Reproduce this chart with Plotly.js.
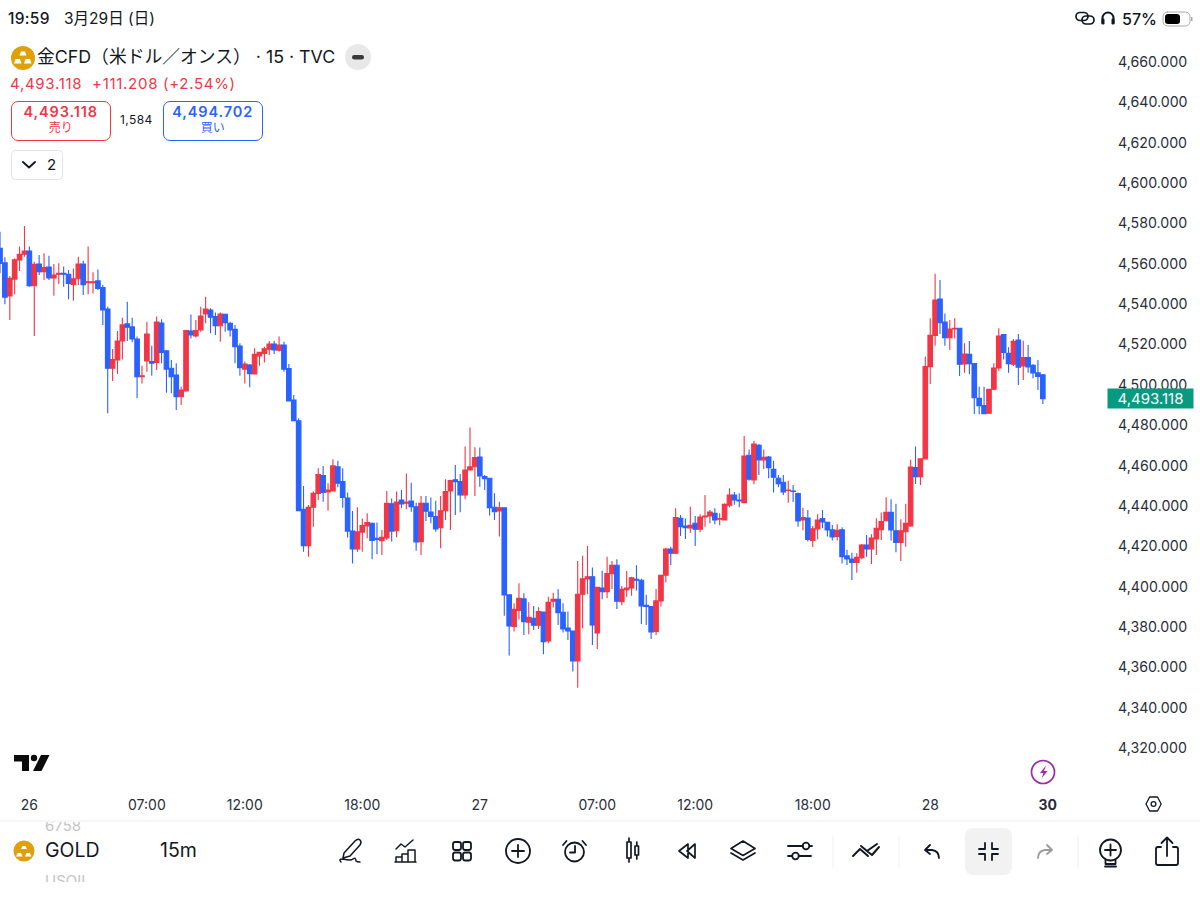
<!DOCTYPE html>
<html><head><meta charset="utf-8">
<script src="https://cdn.plot.ly/plotly-3.0.1.min.js"></script>
<style>
html,body{margin:0;padding:0;background:#fff;width:1200px;height:900px;overflow:hidden}
#wrap{position:relative;width:1200px;height:900px;font-family:Inter,Roboto,"Noto Sans CJK JP",sans-serif;color:#131722}
#chart{position:absolute;left:0;top:0;width:1200px;height:900px}
.t{position:absolute;white-space:nowrap;line-height:1;font-family:Inter,"Noto Sans CJK JP",sans-serif}
.box{position:absolute;box-sizing:border-box}
svg.ov{position:absolute;left:0;top:0;pointer-events:none}
</style></head><body>
<div id="wrap">
<div id="chart"></div>
<svg class="ov" width="1200" height="900" viewBox="0 0 1200 900" fill="none" stroke="#131722" stroke-width="1.8" stroke-linecap="round" stroke-linejoin="round">
  <circle cx="23" cy="58" r="12" fill="#dfa00b" stroke="none"/>
  <path d="M19.500 55.500 l1.500-4 h4 l1.500 4z M14 63.500 l1.500-4.500 h4.500 l1.500 4.500z M24 63.500 l1.500-4.500 h4.500 l1.500 4.500z" fill="#fff" stroke="none"/>
  <circle cx="358" cy="57" r="13" fill="#e8e8e8" stroke="none"/>
  <rect x="352" y="55" width="12" height="4.500" rx="2.200" fill="#3a3a3a" stroke="none"/>
  <rect x="11.500" y="150.500" width="51" height="29" rx="4" stroke="#e0e3eb" stroke-width="1"/>
  <path d="M23 162 l6 5.500 l6-5.500" stroke-width="1.900"/>
  <g stroke-width="1.700">
    <rect x="1076" y="12.500" width="12" height="8" rx="4"/>
    <rect x="1082" y="16" width="12" height="8" rx="4"/>
  </g>
  <path d="M1102.500 23 v-5 a5.500 5.500 0 0 1 11 0 v5" stroke-width="2"/>
  <rect x="1101.500" y="18.500" width="3" height="6" rx="1.200" fill="#131722" stroke="none"/>
  <rect x="1111.500" y="18.500" width="3" height="6" rx="1.200" fill="#131722" stroke="none"/>
  <rect x="1163" y="12" width="27" height="14" rx="4.500" stroke="#a9a9a9" stroke-width="1"/>
  <rect x="1165" y="14" width="15" height="10" rx="3" fill="#000" stroke="none"/>
  <rect x="1191" y="17" width="1.500" height="4" fill="#a9a9a9" stroke="none"/>
  <path d="M14 755 h15 v16 h-7 v-9.500 h-8z" fill="#0b0b0b" stroke="none"/>
  <circle cx="34" cy="758" r="3.200" fill="#0b0b0b" stroke="none"/>
  <path d="M41 755 h8.500 l-8 16 h-8.500z" fill="#0b0b0b" stroke="none"/>
  <circle cx="1043" cy="772" r="11.500" stroke="#9c27b0" stroke-width="1.700"/>
  <path d="M1046 765.500 l-6 7.500 h3.500 l-2 5.500 l6-7.500 h-3.500z" fill="#9c27b0" stroke="none"/>
  <path d="M1146 804 l3.700-7 h7.800 l3.700 7 l-3.700 7 h-7.800z" stroke-width="1.300"/>
  <circle cx="1153.500" cy="804" r="2.400" stroke-width="1.300"/>
  <path d="M0 821 H1200" stroke="#eceef2" stroke-width="1"/>
  <path d="M833 836 V868 M899 836 V868 M1078 836 V868" stroke="#f0f1f3" stroke-width="1"/>
  <circle cx="24" cy="851" r="10.500" fill="#dfa00b" stroke="none"/>
  <path d="M21 849 l1.500-3 h3 l1.500 3z M16 856.500 l1.500-3.500 h3.500 l1.500 3.500z M25 856.500 l1.500-3.500 h3.500 l1.500 3.500z" fill="#fff" stroke="none"/>
  <path d="M344 853 L355 841 q3-3 5 -1 q2 2 0 5 L350 856 L343 858z M341 862 q-3 -3 2-3 q8 2 10 0 q3-2 3 2 q1 1 4 1" stroke-width="1.500"/>
  <path d="M396 849 l5-5 4 3 8-7 M396 862 v-5 h6 v5 M402 862 v-8 h6 v8 M408 862 v-12 h7 v12 M395 862 h21" stroke-width="1.500"/>
  <rect x="453" y="842" width="8" height="8" rx="2.200"/><rect x="463" y="842" width="8" height="8" rx="2.200"/>
  <rect x="453" y="852.500" width="8" height="8" rx="2.200"/><rect x="463" y="852.500" width="8" height="8" rx="2.200"/>
  <circle cx="518" cy="851" r="12"/><path d="M512 851 h12 M518 845 v12" />
  <circle cx="574.500" cy="852" r="9.500"/><path d="M575 846 v6.500 h-5 M563 845 l3.500-4 M586 845 l-3.500-4"/>
  <path d="M627 842 h4 v16 h-4z M629 838 v4 M629 858 v4 M635 846 h3.500 v9 h-3.500z M636.800 842 v4 M636.800 855 v4" stroke-width="1.700"/>
  <path d="M688 844 l-9 7 l9 7 z M695 844 l-8 7 l8 7z" stroke-width="1.700"/>
  <path d="M743 841 l12 7.500 l-12 7 l-12-7z M731 853 l12 7 l12-7" stroke-width="1.700"/>
  <path d="M788 846 h15 M810 846 h2 M788 856 h4 M799 856 h12"/><circle cx="806" cy="846" r="3.300"/><circle cx="795.500" cy="856" r="3.300"/>
  <path d="M853 856 l7-7 l8 7 M861 846 l6 5 l10-7 M868 852 l4 3 l7-8" stroke-width="2"/>
  <path d="M925 850 h7 q7 1 7 8 M930 845 l-5 5 l5 4" stroke-width="1.800"/>
  <rect x="965" y="828" width="47" height="47" rx="8" fill="#f2f2f2" stroke="none"/>
  <path d="M985 843 v6 h-6 M992 843 v6 h6 M985 860 v-6 h-6 M992 860 v-6 h6" stroke-width="1.800"/>
  <path d="M1052 850 h-7 q-7 1 -7 8 M1047 845 l5 5 l-5 4" stroke="#9a9a9a" stroke-width="1.800"/>
  <circle cx="1110.500" cy="850" r="10.500"/><path d="M1105 850 h11 M1110.500 844.500 v11 M1105.500 860 v4 h10 v-4 M1105 866.500 h11" stroke-width="1.800"/>
  <path d="M1161 847 h-3 q-2 0 -2 2 v14 q0 2 2 2 h18 q2 0 2 -2 v-14 q0 -2 -2 -2 h-3 M1167 856 v-18 M1161.500 843 l5.500-5.500 l5.500 5.500" stroke-width="1.800"/>
</svg>

<div class="t" style="left:8px;top:11px;font-size:15.500px;font-weight:500;letter-spacing:.3px">19:59</div>
<div class="t" style="left:64px;top:11px;font-size:15.500px">3月29日 (日)</div>
<div class="t" style="left:1122px;top:11px;font-size:16px;font-weight:500">57%</div>

<div class="t" style="left:37px;top:48px;font-size:17.800px">金CFD（米ドル／オンス） · 15 · TVC</div>
<div class="t" style="left:10px;top:76px;font-size:15px;letter-spacing:.7px;color:#f23645">4,493.118&nbsp; +111.208 (+2.54%)</div>

<div class="box" style="left:11px;top:101px;width:99.500px;height:40px;border:1.200px solid #f23645;border-radius:7px"></div>
<div class="t" style="left:11px;top:105px;width:99.500px;text-align:center;font-size:14.500px;font-weight:600;letter-spacing:.9px;color:#f23645">4,493.118</div>
<div class="t" style="left:11px;top:122px;width:99.500px;text-align:center;font-size:12px;color:#f23645">売り</div>
<div class="t" style="left:120px;top:114px;font-size:12px;letter-spacing:.4px">1,584</div>
<div class="box" style="left:163px;top:101px;width:99.500px;height:40px;border:1.200px solid #2962ff;border-radius:7px"></div>
<div class="t" style="left:163px;top:105px;width:99.500px;text-align:center;font-size:14.500px;font-weight:600;letter-spacing:.9px;color:#2962ff">4,494.702</div>
<div class="t" style="left:163px;top:122px;width:99.500px;text-align:center;font-size:12px;color:#2962ff">買い</div>
<div class="t" style="left:47px;top:157px;font-size:15px">2</div>

<div style="position:absolute;left:45px;top:822px;height:9px;width:60px;overflow:hidden"><div class="t" style="left:0;top:-4px;font-size:15px;color:#c4c4c4">6758</div></div>
<div style="position:absolute;left:45px;top:873px;height:9px;width:60px;overflow:hidden"><div class="t" style="left:0;top:0;font-size:15px;color:#c4c4c4">USOIL</div></div>
<div class="t" style="left:45px;top:841px;font-size:19.500px">GOLD</div>
<div class="t" style="left:160px;top:841px;font-size:19.500px">15m</div>
</div>
<script>
const highs = [4575.9,4563.2,4553.9,4562.7,4568.5,4578.7,4568.5,4561.0,4564.3,4565.2,4564.0,4559.9,4560.2,4558.6,4556.9,4557.7,4563.5,4561.5,4568.5,4555.8,4557.2,4549.5,4538.7,4517.8,4526.7,4533.3,4541.2,4533.3,4523.9,4509.5,4531.3,4519.4,4533.8,4532.5,4517.3,4512.3,4510.7,4499.1,4527.2,4534.9,4532.1,4538.7,4543.7,4537.9,4535.8,4535.8,4535.4,4531.3,4529.7,4520.6,4511.5,4510.3,4518.1,4516.4,4518.9,4521.7,4521.9,4523.9,4521.4,4510.3,4495.0,4483.4,
4449.9,4440.4,4447.1,4458.6,4459.8,4451.2,4463.1,4462.4,4458.6,4446.6,4437.5,4439.3,4433.8,4436.3,4431.7,4431.7,4428.0,4447.4,4443.7,4447.1,4447.9,4456.1,4451.5,4441.6,4444.9,4444.9,4444.1,4442.6,4444.9,4453.2,4452.9,4460.3,4455.8,4469.4,4478.8,4469.0,4468.9,4455.3,4454.0,4446.2,4442.1,4439.1,
4396.2,4391.7,4401.6,4396.7,4392.2,4390.4,4389.7,4387.4,4395.0,4397.0,4398.7,4391.7,4387.6,4378.0,4412.7,4415.3,4420.1,4409.4,4399.6,4407.9,4414.8,4412.7,4413.5,4400.3,4407.7,4404.9,4410.6,4403.9,4395.9,4390.4,4398.8,4405.6,4419.3,4419.8,4438.8,
4435.5,4433.8,4439.6,4435.0,4435.8,4445.4,4438.0,4438.8,4436.3,4441.3,4448.7,4446.9,4446.2,4474.6,4468.0,4472.3,4470.7,4468.0,4464.7,4462.4,4455.3,4455.3,4452.5,4450.4,4446.6,4439.1,4438.0,4430.0,4435.8,4438.0,4432.2,4430.5,4430.9,4429.4,4418.2,4416.8,4416.5,4421.1,4425.6,4425.9,4433.9,4436.7,4444.3,4443.3,4441.0,4433.4,4441.0,4462.8,
4469.4,4463.3,4514.0,4533.0,4555.0,4552.0,4535.4,4532.1,4533.0,4528.3,4520.6,4521.7,4510.7,4499.1,4499.1,4498.1,4510.7,4528.0,4525.2,4518.6,4522.7,4525.2,4521.9,4519.7,4510.3,4512.3,4505.4];
const bodyTops = [4567.6,4560.5,4552.8,4561.9,4564.7,4566.3,4566.3,4559.7,4559.9,4558.1,4558.4,4554.4,4555.3,4555.3,4554.8,4552.6,4559.9,4559.9,4551.1,4551.1,4551.5,4548.2,4537.6,4512.5,4521.7,4529.7,4530.2,4528.7,4522.7,4504.5,4525.2,4511.5,4531.1,4530.6,4516.8,4508.2,4504.9,4497.4,4526.9,4526.7,4526.9,4534.1,4537.6,4537.1,4533.8,4535.1,4535.0,4530.5,4527.5,4519.2,4510.3,4509.8,4515.1,4516.1,4517.9,4520.2,4520.2,4519.7,4519.7,4508.0,4492.5,4482.2,
4438.3,4439.3,4446.2,4455.5,4455.0,4447.9,4459.8,4459.4,4452.0,4443.9,4427.5,4427.1,4430.2,4431.7,4431.4,4423.9,4424.4,4441.3,4441.0,4441.9,4442.9,4441.9,4442.4,4439.6,4441.3,4441.3,4437.0,4434.7,4437.6,4447.1,4452.5,4452.9,4452.0,4457.8,4459.4,4463.9,4464.2,4454.5,4453.7,4439.3,4439.1,4439.1,
4395.9,4388.7,4394.2,4393.9,4384.8,4384.3,4387.6,4387.4,4392.2,4393.7,4393.7,4387.3,4379.5,4378.0,4396.2,4403.8,4404.9,4404.9,4399.6,4399.3,4406.4,4410.6,4410.6,4398.7,4399.3,4404.4,4403.6,4403.1,4390.7,4390.1,4392.9,4405.6,4418.6,4418.6,4434.2,
4433.8,4430.0,4430.4,4431.4,4434.5,4435.0,4437.0,4436.3,4433.7,4440.8,4445.4,4445.4,4442.9,4464.7,4465.1,4470.7,4470.0,4464.1,4464.2,4458.1,4453.7,4451.7,4447.9,4447.4,4446.1,4434.2,4434.0,4428.6,4433.0,4433.7,4431.9,4428.1,4427.9,4428.2,4415.2,4413.7,4414.5,4420.6,4420.6,4424.1,4428.9,4432.2,4436.8,4436.8,4427.7,4427.7,4431.4,4459.3,
4459.0,4463.3,4509.0,4524.5,4542.0,4542.5,4531.1,4527.7,4528.0,4528.0,4515.3,4515.1,4510.5,4493.3,4489.7,4497.8,4508.3,4524.2,4524.9,4515.6,4521.6,4522.2,4513.5,4513.5,4509.7,4505.9,4505.0];
const bodyBottoms = [4560.2,4543.4,4544.0,4552.4,4561.9,4564.7,4549.1,4549.1,4556.1,4556.1,4553.0,4553.0,4554.8,4554.8,4550.3,4549.8,4552.6,4549.6,4550.6,4550.6,4547.7,4537.1,4508.2,4508.2,4512.3,4521.7,4528.5,4522.7,4504.0,4504.0,4511.8,4510.7,4511.1,4516.1,4507.8,4504.0,4494.1,4494.1,4497.0,4524.7,4524.2,4527.2,4535.1,4533.5,4529.3,4529.3,4530.8,4527.2,4518.9,4508.5,4507.8,4505.5,4505.4,4514.3,4515.6,4517.6,4517.3,4517.1,4507.8,4492.0,4482.2,4437.6,
4420.3,4420.3,4439.3,4446.2,4446.6,4446.9,4447.4,4451.2,4444.2,4427.5,4418.6,4418.6,4426.9,4430.0,4422.9,4423.3,4422.8,4424.1,4427.5,4427.7,4441.0,4441.3,4439.6,4422.1,4422.3,4437.3,4434.7,4428.6,4429.2,4437.6,4447.4,4452.0,4445.4,4445.4,4457.8,4459.4,4454.8,4453.5,4439.1,4437.1,4437.5,4395.9,
4380.5,4380.2,4388.2,4382.6,4382.3,4380.8,4380.8,4372.7,4373.0,4392.7,4387.1,4379.0,4378.0,4363.1,4363.1,4396.2,4403.8,4381.0,4377.0,4397.5,4397.5,4406.4,4392.7,4392.5,4398.5,4399.3,4403.1,4390.4,4390.2,4377.5,4377.7,4392.9,4405.6,4416.5,4416.5,
4429.7,4429.2,4429.1,4428.4,4428.4,4434.5,4435.0,4433.0,4433.4,4433.0,4440.3,4442.9,4442.4,4441.6,4453.2,4452.8,4462.8,4462.8,4458.9,4454.2,4451.0,4446.9,4447.6,4447.1,4432.5,4433.0,4423.4,4422.9,4428.6,4432.0,4428.1,4424.6,4424.8,4414.8,4413.7,4412.0,4412.0,4414.3,4418.6,4418.6,4423.6,4428.2,4432.7,4428.1,4421.9,4421.9,4427.2,4430.0,
4454.5,4454.5,4463.3,4509.0,4524.5,4530.8,4523.4,4523.4,4527.7,4510.2,4510.3,4510.5,4493.6,4489.7,4485.7,4485.9,4497.8,4508.3,4516.1,4510.5,4510.2,4508.7,4509.3,4508.8,4505.9,4504.2,4493.118];
const lows = [4555.3,4539.9,4532.1,4544.9,4556.4,4563.5,4548.6,4524.2,4554.4,4552.0,4552.0,4544.2,4550.0,4548.6,4542.4,4541.7,4549.5,4544.5,4544.9,4545.3,4547.0,4529.6,4485.9,4501.9,4505.4,4512.6,4521.7,4521.1,4493.3,4500.6,4506.5,4504.5,4507.3,4510.7,4496.1,4495.8,4487.5,4490.0,4496.6,4523.0,4523.5,4526.3,4530.5,4525.5,4524.7,4521.4,4526.3,4523.9,4510.7,4504.5,4500.7,4498.8,4505.4,4509.5,4511.0,4514.8,4515.3,4516.4,4506.5,4492.0,4482.2,4437.6,
4417.3,4414.8,4429.7,4442.9,4442.1,4437.6,4447.1,4449.2,4439.1,4424.3,4411.5,4417.3,4417.3,4423.9,4413.5,4416.0,4415.7,4423.1,4422.3,4424.4,4438.8,4438.3,4437.1,4417.8,4415.7,4432.5,4431.4,4427.2,4419.0,4433.0,4428.1,4435.5,4436.8,4443.3,4457.8,4444.9,4449.5,4447.9,4435.2,4433.0,4424.8,4385.6,
4365.8,4377.7,4383.8,4376.0,4376.4,4378.5,4379.0,4366.4,4371.9,4389.6,4381.0,4377.2,4373.5,4357.9,4349.9,4379.3,4396.2,4371.1,4369.1,4393.7,4394.2,4398.8,4388.9,4390.7,4395.0,4395.4,4398.0,4381.5,4381.0,4374.0,4376.0,4390.1,4402.0,4410.7,4416.2,
4425.1,4423.6,4426.7,4420.1,4426.9,4429.7,4431.4,4430.9,4430.4,4432.7,4439.3,4440.5,4439.3,4441.6,4452.5,4450.7,4455.3,4458.3,4453.7,4446.6,4449.2,4445.4,4441.6,4441.9,4429.7,4427.9,4422.3,4419.6,4423.4,4428.9,4424.8,4422.8,4422.8,4411.5,4410.7,4403.3,4406.9,4413.5,4414.8,4411.2,4415.7,4423.1,4432.7,4422.8,4417.0,4412.7,4419.8,4429.7,
4450.9,4450.4,4463.3,4500.4,4519.4,4525.2,4519.4,4517.3,4523.0,4504.4,4506.0,4505.2,4485.5,4485.4,4485.7,4485.5,4497.4,4507.0,4512.6,4506.0,4509.3,4499.9,4502.4,4506.0,4503.2,4497.4,4490.5];
const directions = ["b","b","r","r","r","r","b","r","b","r","b","r","r","b","b","r","r","b","r","r","b","b","b","r","r","r","b","b","b","r","r","b","r","b","b","b","b","r","r","b","r","r","r","b","b","r","b","b","b","b","r","b","r","r","r","r","b","r","b","b","b","b",
"b","r","r","r","b","r","r","b","b","b","b","r","r","r","b","b","r","r","b","r","b","r","b","b","r","b","b","b","r","r","r","b","b","r","r","r","b","b","b","b","r","b",
"b","r","r","b","r","b","r","b","r","r","b","b","b","b","r","r","r","b","r","b","r","r","b","r","r","r","b","b","b","b","r","r","r","b","r",
"b","b","r","b","r","r","r","b","r","r","r","b","b","r","b","r","b","r","b","b","b","b","r","b","b","r","b","r","r","b","b","b","r","b","b","b","r","r","b","r","r","r","r","b","b","r","r","r",
"b","r","r","r","r","b","b","r","r","b","r","b","b","b","b","r","r","r","b","b","r","b","r","b","b","b","b"];
const opens = directions.map((d,i)=> d==="r" ? bodyBottoms[i] : bodyTops[i]);
const closes = directions.map((d,i)=> d==="r" ? bodyTops[i] : bodyBottoms[i]);
const barIndex = highs.map((_,i)=>i);
const priceTicks = [4660,4640,4620,4600,4580,4560,4540,4520,4500,4480,4460,4440,4420,4400,4380,4360,4340,4320];
const timeTickBars = [6,30,50,74,98,122,142,166,190,214];
const timeTickLabels = ["26","07:00","12:00","18:00","27","07:00","12:00","18:00","28","<b>30</b>"];
const lastPriceLabel = "4,493.118";
const lastPrice = 4493.118;

const RED="#f23645", BLUE="#2962ff";
const trace={type:"candlestick",x:barIndex,open:opens,high:highs,low:lows,close:closes,
  increasing:{line:{color:RED,width:1.1},fillcolor:RED},
  decreasing:{line:{color:BLUE,width:1.1},fillcolor:BLUE},
  whiskerwidth:0,hoverinfo:"skip"};
const layout={width:1200,height:900,margin:{l:0,r:95,t:40,b:105,pad:0},
  paper_bgcolor:"rgba(0,0,0,0)",plot_bgcolor:"rgba(0,0,0,0)",showlegend:false,boxgap:0.07,boxgroupgap:0,
  font:{family:"Inter, Roboto, sans-serif",size:14,color:"#2a2e39"},
  xaxis:{range:[0,225.7],rangeslider:{visible:false},showgrid:false,zeroline:false,showline:false,
    tickmode:"array",tickvals:timeTickBars,ticktext:timeTickLabels,ticks:"",tickfont:{size:14,color:"#2a2e39"},tickangle:0},
  yaxis:{range:[4296.7,4670.9],side:"right",showgrid:false,zeroline:false,showline:false,
    tickmode:"array",tickvals:priceTicks,tickformat:",.3f",ticks:"",ticklabelstandoff:12,tickfont:{size:14.2,color:"#2a2e39"}},
  annotations:[{xref:"paper",x:1.0018,xanchor:"left",yref:"y",y:lastPrice,yanchor:"middle",text:lastPriceLabel,showarrow:false,
    bgcolor:"#089981",font:{color:"#fff",size:15},width:85,height:19,borderpad:0,align:"center"}]};
Plotly.newPlot("chart",[trace],layout,{displayModeBar:false,staticPlot:true});
</script>
</body></html>
